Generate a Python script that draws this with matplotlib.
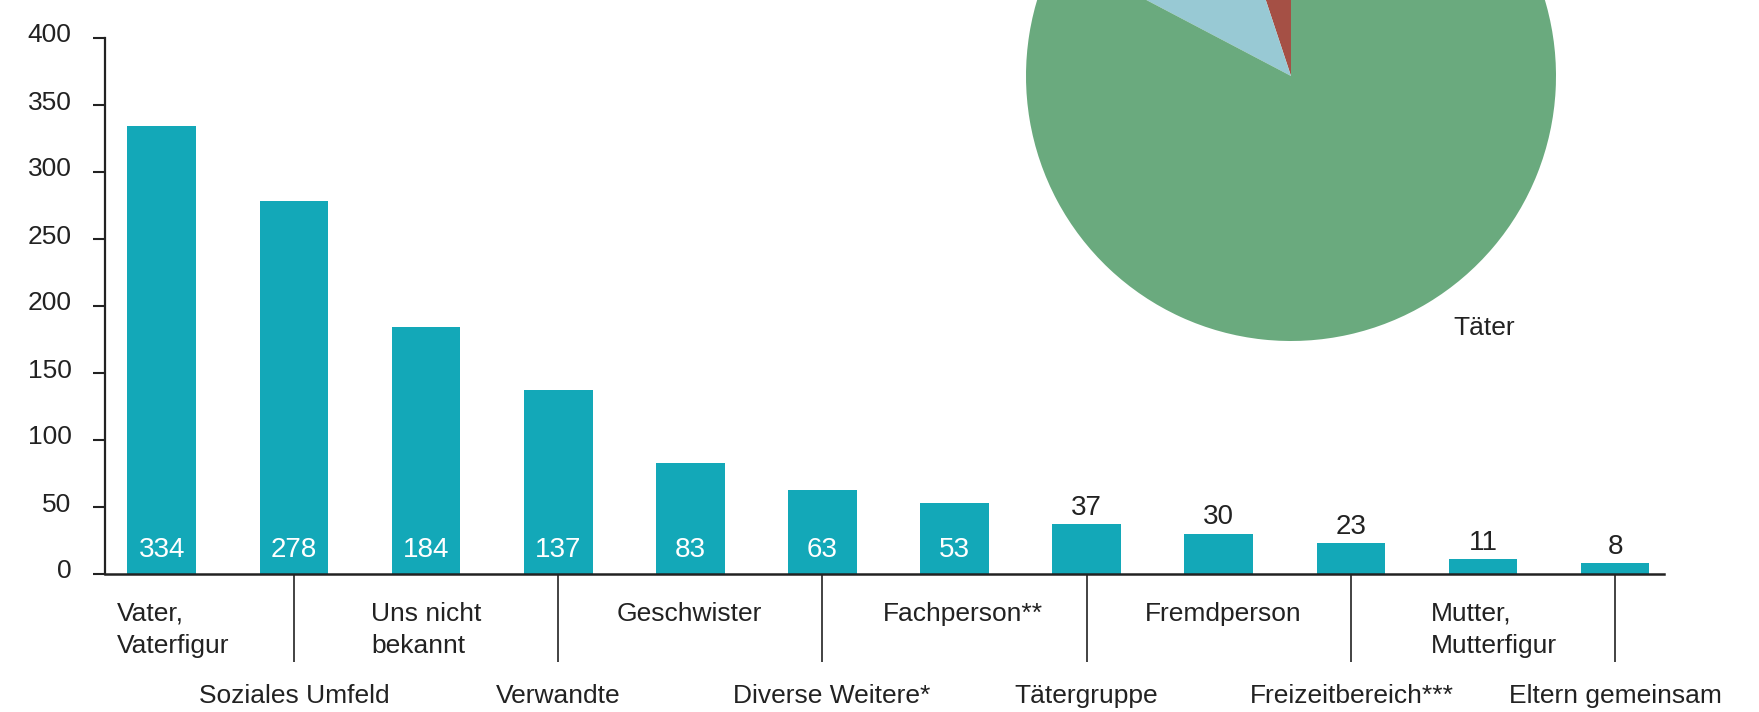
import matplotlib
matplotlib.use("Agg")
import matplotlib.pyplot as plt
from matplotlib.transforms import ScaledTranslation

plt.rcParams['font.family'] = ['Liberation Sans Narrow', 'Liberation Sans', 'DejaVu Sans']

# ---- data ----
categories = ["Vater,\nVaterfigur", "Soziales Umfeld", "Uns nicht\nbekannt", "Verwandte",
              "Geschwister", "Diverse Weitere*", "Fachperson**", "Tätergruppe",
              "Fremdperson", "Freizeitbereich***", "Mutter,\nMutterfigur", "Eltern gemeinsam"]
values = [334, 278, 184, 137, 83, 63, 53, 37, 30, 23, 11, 8]
yticks = [0, 50, 100, 150, 200, 250, 300, 350, 400]

pie_values = [5.1, 12.2, 82.7]   # red, light blue, green (Täter)
pie_labels = ["", "", "Täter"]

# ---- style ----
BAR = "#13A8B8"
PIE_COLORS = ["#A55045", "#98C9D4", "#6AAA7E"]
TXT = "#222222"
FS = 19
label_dx = [8, 0, 0, 0, -1, 7, 6, 0, 3, 1, 8, 0]   # horizontal nudges (points)

W, H = 1759, 712
fig = plt.figure(figsize=(W / 100, H / 100), dpi=100)

# bar axes
x0, x1, ybot, ytop = 105, 1664, 574, 38
ax = fig.add_axes([x0 / W, (H - ybot) / H, (x1 - x0) / W, (ybot - ytop) / H])
xs = list(range(len(values)))
ax.bar(xs, values, width=0.52, color=BAR, zorder=2)
ax.set_xlim(-0.43, 11.37)
ax.set_ylim(0, 400)
ax.set_yticks(yticks)
ax.set_yticklabels([str(t) for t in yticks], fontsize=FS, color=TXT)
ax.tick_params(axis='y', length=9, width=1.5, pad=15, colors=TXT)
for lab in ax.get_yticklabels():
    lab.set_transform(lab.get_transform() + ScaledTranslation(0, 5 / 100, fig.dpi_scale_trans))
# separator ticks at every second bar
ax.set_xticks(xs[1::2])
ax.set_xticklabels([])
ax.tick_params(axis='x', length=63, width=1.2, colors=TXT)
for s in ['top', 'right']:
    ax.spines[s].set_visible(False)
ax.spines['left'].set_linewidth(1.6)
ax.spines['bottom'].set_linewidth(1.8)
ax.spines['left'].set_color(TXT)
ax.spines['bottom'].set_color(TXT)

# value labels
for i, v in enumerate(values):
    if v >= 50:
        ax.annotate(str(v), (i, 0), xytext=(0, 17), textcoords='offset points',
                    ha='center', va='center', color='white', fontsize=FS + 1)
    else:
        ax.annotate(str(v), (i, v), xytext=(0, 12), textcoords='offset points',
                    ha='center', va='center', color=TXT, fontsize=FS + 1)

# category labels
for i, c in enumerate(categories):
    if i % 2 == 0:
        ax.annotate(c, (i, 0), xycoords=('data', 'axes fraction'), xytext=(label_dx[i], -20),
                    textcoords='offset points', ha='center', va='top',
                    multialignment='left', fontsize=FS, color=TXT, linespacing=1.45)
    else:
        ax.annotate(c, (i, 0), xycoords=('data', 'axes fraction'), xytext=(label_dx[i], -88),
                    textcoords='offset points', ha='center', va='center',
                    fontsize=FS, color=TXT)

# pie
cx, cy, r = 1291, 76, 265
pax = fig.add_axes([(cx - r) / W, (H - cy - r) / H, 2 * r / W, 2 * r / H])
pax.pie(pie_values, colors=PIE_COLORS, startangle=90, counterclock=True,
        wedgeprops=dict(linewidth=0))
pax.set_xlim(-1, 1)
pax.set_ylim(-1, 1)
pax.set_aspect('equal')
pax.axis('off')
pax.text(0.728, -0.951, pie_labels[2], ha='center', va='center', fontsize=FS,
         color=TXT, clip_on=False)

fig.savefig("out.png", dpi=100)
